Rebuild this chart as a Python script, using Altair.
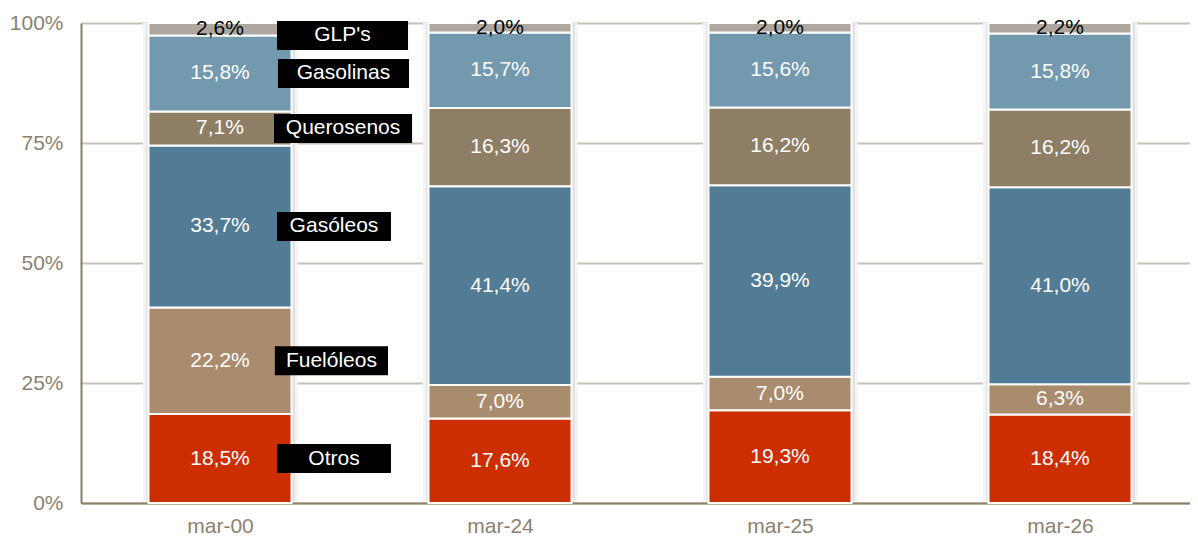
import json
import altair as alt
import pandas as pd

periods = ["mar-00", "mar-24", "mar-25", "mar-26"]
products = ["Otros", "Fuelóleos", "Gasóleos", "Querosenos", "Gasolinas", "GLP's"]
otros = [18.5, 17.6, 19.3, 18.4]
fueloleos = [22.2, 7.0, 7.0, 6.3]
gasoleos = [33.7, 41.4, 39.9, 41.0]
querosenos = [7.1, 16.3, 16.2, 16.2]
gasolinas = [15.8, 15.7, 15.6, 15.8]
glp = [2.6, 2.0, 2.0, 2.2]
y_ticks = [0, 25, 50, 75, 100]

series = [otros, fueloleos, gasoleos, querosenos, gasolinas, glp]

# styling (not data)
colors = ["#CC2E00", "#A98B6D", "#527C95", "#8F7E66", "#7399AF", "#AEA79F"]
legend_box_w = {"Otros": 0.407, "Fuelóleos": 0.404, "Gasóleos": 0.407,
                "Querosenos": 0.493, "Gasolinas": 0.468, "GLP's": 0.468}
legend_box_x0 = {"Otros": 0.2036, "Fuelóleos": 0.196, "Gasóleos": 0.2036,
                 "Querosenos": 0.193, "Gasolinas": 0.207, "GLP's": 0.2036}
HALF = 0.2554
FONT = "Liberation Sans"
FS = 21
AX = "#8B7F6A"
LBL = "#8B8170"

rows = []
legend_rows = []
for i, per in enumerate(periods):
    total = sum(s[i] for s in series)
    cum = 0.0
    for p, s in zip(products, series):
        v = s[i]
        y0 = cum / total * 100
        cum += v
        y1 = cum / total * 100
        mid = (y0 + y1) / 2
        rows.append(dict(period=per, idx=i, product=p, value=v, y0=y0, y1=y1, mid=mid,
                         x0=i - HALF, x1=i + HALF,
                         label=f"{v:.1f}".replace(".", ",") + "%"))
        if i == 0:
            c = min(mid, 97.4)
            lx0 = i + legend_box_x0[p]
            lx1 = lx0 + legend_box_w[p]
            legend_rows.append(dict(product=p, yc=c, yb0=c - 3.02, yb1=c + 3.02,
                                    lx0=lx0, lx1=lx1, lxc=(lx0 + lx1) / 2))

df = pd.DataFrame(rows)
ldf = pd.DataFrame(legend_rows)

xscale = alt.Scale(domain=[-0.4964, 3.4643], nice=False, zero=False)
yscale = alt.Scale(domain=[0, 100], nice=False)
label_expr = json.dumps(periods) + "[round(datum.value)]"

xaxis = alt.Axis(values=[0, 1, 2, 3], labelExpr=label_expr, title=None,
                 grid=False, ticks=False, domainColor=AX, domainWidth=2,
                 labelColor=LBL, labelFontSize=FS, labelFont=FONT,
                 labelPadding=12)
yaxis = alt.Axis(values=y_ticks, labelExpr="datum.value + '%'", title=None,
                 grid=True, gridColor="#C4C0B4", gridWidth=2, ticks=False,
                 domainColor=AX, domainWidth=2, labelColor=LBL,
                 labelFontSize=FS, labelFont=FONT, labelPadding=18)

shadow_df = pd.DataFrame(dict(idx=list(range(len(periods)))))
shadow_df["o0"] = shadow_df["idx"] - HALF - 0.02
shadow_df["o1"] = shadow_df["idx"] + HALF + 0.022
shadow_df["s0"] = shadow_df["idx"] - HALF - 0.008
shadow_df["s1"] = shadow_df["idx"] + HALF + 0.012
shadow_df["sy0"] = 0.3
shadow_df["sy1"] = 100

shadow_outer = alt.Chart(shadow_df).mark_rect(color="#F3F3F3").encode(
    x=alt.X("o0:Q", scale=xscale, axis=xaxis),
    x2="o1:Q",
    y=alt.Y("sy0:Q", scale=yscale, axis=yaxis),
    y2="sy1:Q",
)

shadow = alt.Chart(shadow_df).mark_rect(color="#E0E0E0").encode(
    x=alt.X("s0:Q", scale=xscale, axis=xaxis),
    x2="s1:Q",
    y=alt.Y("sy0:Q", scale=yscale, axis=yaxis),
    y2="sy1:Q",
)

bars = alt.Chart(df).mark_rect(stroke="white", strokeWidth=2).encode(
    x=alt.X("x0:Q", scale=xscale, axis=xaxis),
    x2="x1:Q",
    y=alt.Y("y0:Q", scale=yscale, axis=yaxis),
    y2="y1:Q",
    color=alt.Color("product:N", scale=alt.Scale(domain=products, range=colors), legend=None),
)

bar_text = alt.Chart(df).mark_text(font=FONT, fontSize=FS, baseline="middle", align="center").encode(
    x=alt.X("idx:Q", scale=xscale, axis=xaxis),
    y=alt.Y("mid:Q", scale=yscale, axis=yaxis),
    text="label:N",
    color=alt.condition(alt.datum.product == "GLP's", alt.value("black"), alt.value("white")),
)

leg_box = alt.Chart(ldf).mark_rect(color="black").encode(
    x=alt.X("lx0:Q", scale=xscale, axis=xaxis),
    x2="lx1:Q",
    y=alt.Y("yb0:Q", scale=yscale, axis=yaxis),
    y2="yb1:Q",
)

leg_text = alt.Chart(ldf).mark_text(font=FONT, fontSize=FS, color="white",
                                    baseline="middle", align="center").encode(
    x=alt.X("lxc:Q", scale=xscale, axis=xaxis),
    y=alt.Y("yc:Q", scale=yscale, axis=yaxis),
    text="product:N",
)

chart = alt.layer(shadow_outer, shadow, bars, bar_text, leg_box, leg_text).properties(
    width=1109, height=480,
    autosize=alt.AutoSizeParams(type="none"),
    padding={"left": 73, "top": 15, "right": 0, "bottom": 34},
    background="white",
).configure_view(stroke=None)

chart.save("out.html", embed_options={"renderer": "svg", "actions": False})
